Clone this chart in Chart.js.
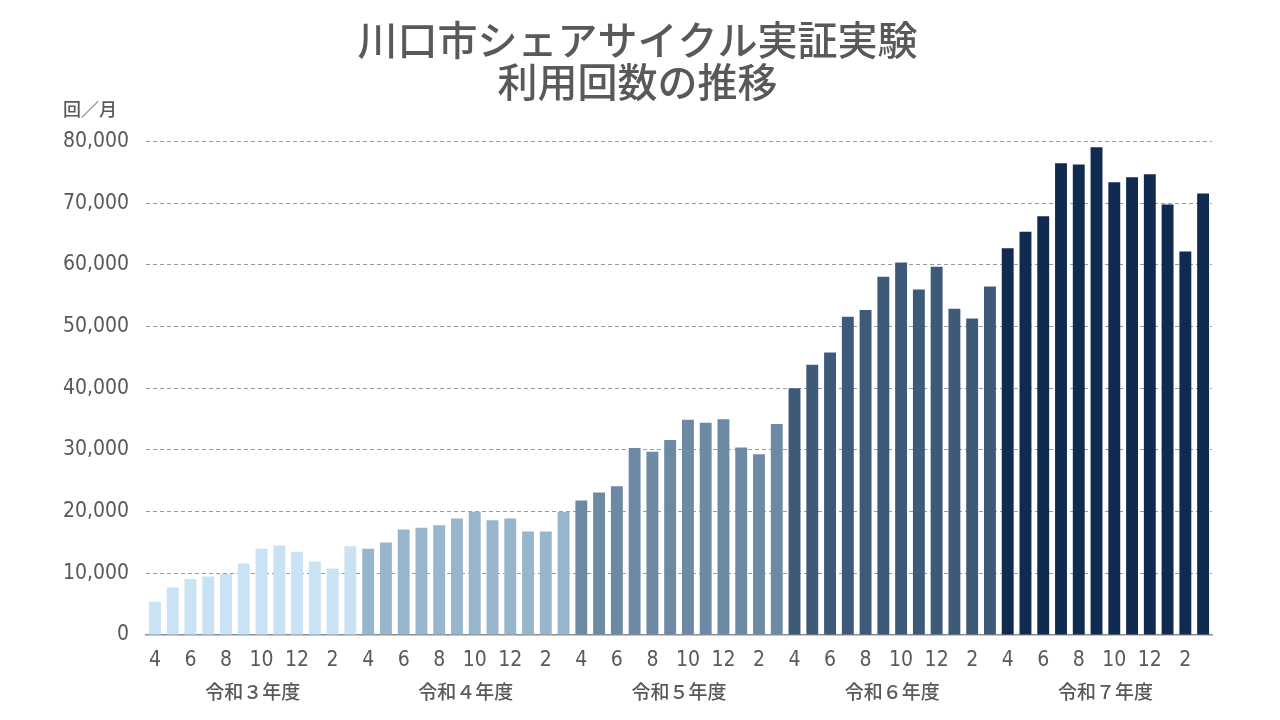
<!DOCTYPE html>
<html lang="ja">
<head>
<meta charset="utf-8">
<title>川口市シェアサイクル実証実験 利用回数の推移</title>
<script src="https://cdn.jsdelivr.net/npm/chart.js@4.4.1/dist/chart.umd.min.js"></script>
<style>
  html, body { margin: 0; padding: 0; background: #fff; }
  #wrap { width: 1280px; height: 720px; }
</style>
</head>
<body>
<div id="wrap"><canvas id="usageChart" width="1280" height="720"></canvas></div>
<script>
// 年度ごとの月別利用回数（4月〜翌3月）
var months = [4, 5, 6, 7, 8, 9, 10, 11, 12, 1, 2, 3];
var yearNames = ['令和３年度', '令和４年度', '令和５年度', '令和６年度', '令和７年度'];
var r3 = [5400, 7700, 9100, 9500, 9900, 11600, 14000, 14500, 13500, 11900, 10800, 14400];
var r4 = [14000, 15000, 17100, 17400, 17800, 18900, 20000, 18600, 18900, 16800, 16800, 19950];
var r5 = [21800, 23100, 24100, 30300, 29700, 31600, 34900, 34400, 35000, 30400, 29300, 34200];
var r6 = [40000, 43800, 45800, 51600, 52700, 58100, 60400, 56000, 59700, 52900, 51300, 56500];
var r7 = [62700, 65400, 67900, 76500, 76300, 79100, 73400, 74200, 74700, 69800, 62200, 71600];
var yTicks = [0, 10000, 20000, 30000, 40000, 50000, 60000, 70000, 80000];

var yearColors = ['#c9e3f4', '#98b6cb', '#6d89a3', '#3f5a78', '#112b50'];
var textColor = '#595959';
var numFont = '"Liberation Sans Narrow", "DejaVu Sans Condensed", "Noto Sans CJK JP", sans-serif';

var usage = r3.concat(r4, r5, r6, r7);
var labels = [];
yearNames.forEach(function () { months.forEach(function (m) { labels.push(String(m)); }); });
var barColors = usage.map(function (v, i) { return yearColors[Math.floor(i / 12)]; });

var ctx = document.getElementById('usageChart').getContext('2d');
var usageChart = new Chart(ctx, {
    type: 'bar',
    data: {
        labels: labels,
        datasets: [{
            label: '利用回数',
            data: usage,
            xAxisID: 'x',
            backgroundColor: barColors,
            borderWidth: 0,
            categoryPercentage: 1.0,
            barPercentage: 0.67
        }]
    },
    options: {
        responsive: false,
        animation: false,
        devicePixelRatio: 1,
        layout: { padding: { left: 63, right: 68, top: 19, bottom: 10 } },
        plugins: {
            legend: { display: false },
            tooltip: { enabled: false },
            title: {
                display: true,
                text: ['川口市シェアサイクル実証実験', '利用回数の推移'],
                color: textColor,
                font: { family: '"Noto Sans CJK JP", sans-serif', size: 40, weight: '500', lineHeight: 1.05 },
                padding: { top: 0, bottom: -5 }
            },
            subtitle: {
                display: true,
                text: '回／月',
                align: 'start',
                color: textColor,
                font: { family: '"Noto Sans CJK JP", sans-serif', size: 18, weight: '500' },
                padding: { top: 0, bottom: 22 }
            }
        },
        scales: {
            x: {
                type: 'category',
                offset: true,
                grid: { display: true, drawOnChartArea: false, drawTicks: true, tickLength: 13, tickColor: 'rgba(0,0,0,0)' },
                border: { display: true, color: '#8c8c8c', width: 1.5 },
                ticks: {
                    autoSkip: false,
                    maxRotation: 0,
                    padding: 0,
                    color: textColor,
                    font: { family: numFont, size: 21 },
                    callback: function (value, index) { return index % 2 === 0 ? this.getLabelForValue(value) : ''; }
                }
            },
            year: {
                type: 'category',
                position: 'bottom',
                labels: yearNames,
                offset: true,
                grid: { display: false, drawTicks: false },
                border: { display: false },
                ticks: {
                    autoSkip: false,
                    maxRotation: 0,
                    padding: 7,
                    color: textColor,
                    font: { family: '"Noto Sans CJK JP", sans-serif', size: 19, weight: '500' }
                }
            },
            y: {
                min: 0,
                max: 80000,
                afterBuildTicks: function (axis) {
                    axis.ticks = yTicks.map(function (v) { return { value: v }; });
                },
                grid: {
                    drawTicks: true,
                    tickLength: 17,
                    tickColor: 'rgba(0,0,0,0)',
                    color: function (c) { return c.tick && c.tick.value === 0 ? 'rgba(0,0,0,0)' : '#9a9a9a'; },
                    lineWidth: 1
                },
                border: { display: false, dash: [4, 3] },
                ticks: {
                    padding: 0,
                    color: textColor,
                    font: { family: numFont, size: 21 },
                    callback: function (value) { return value.toLocaleString('en-US'); }
                }
            }
        }
    }
});
</script>
</body>
</html>
